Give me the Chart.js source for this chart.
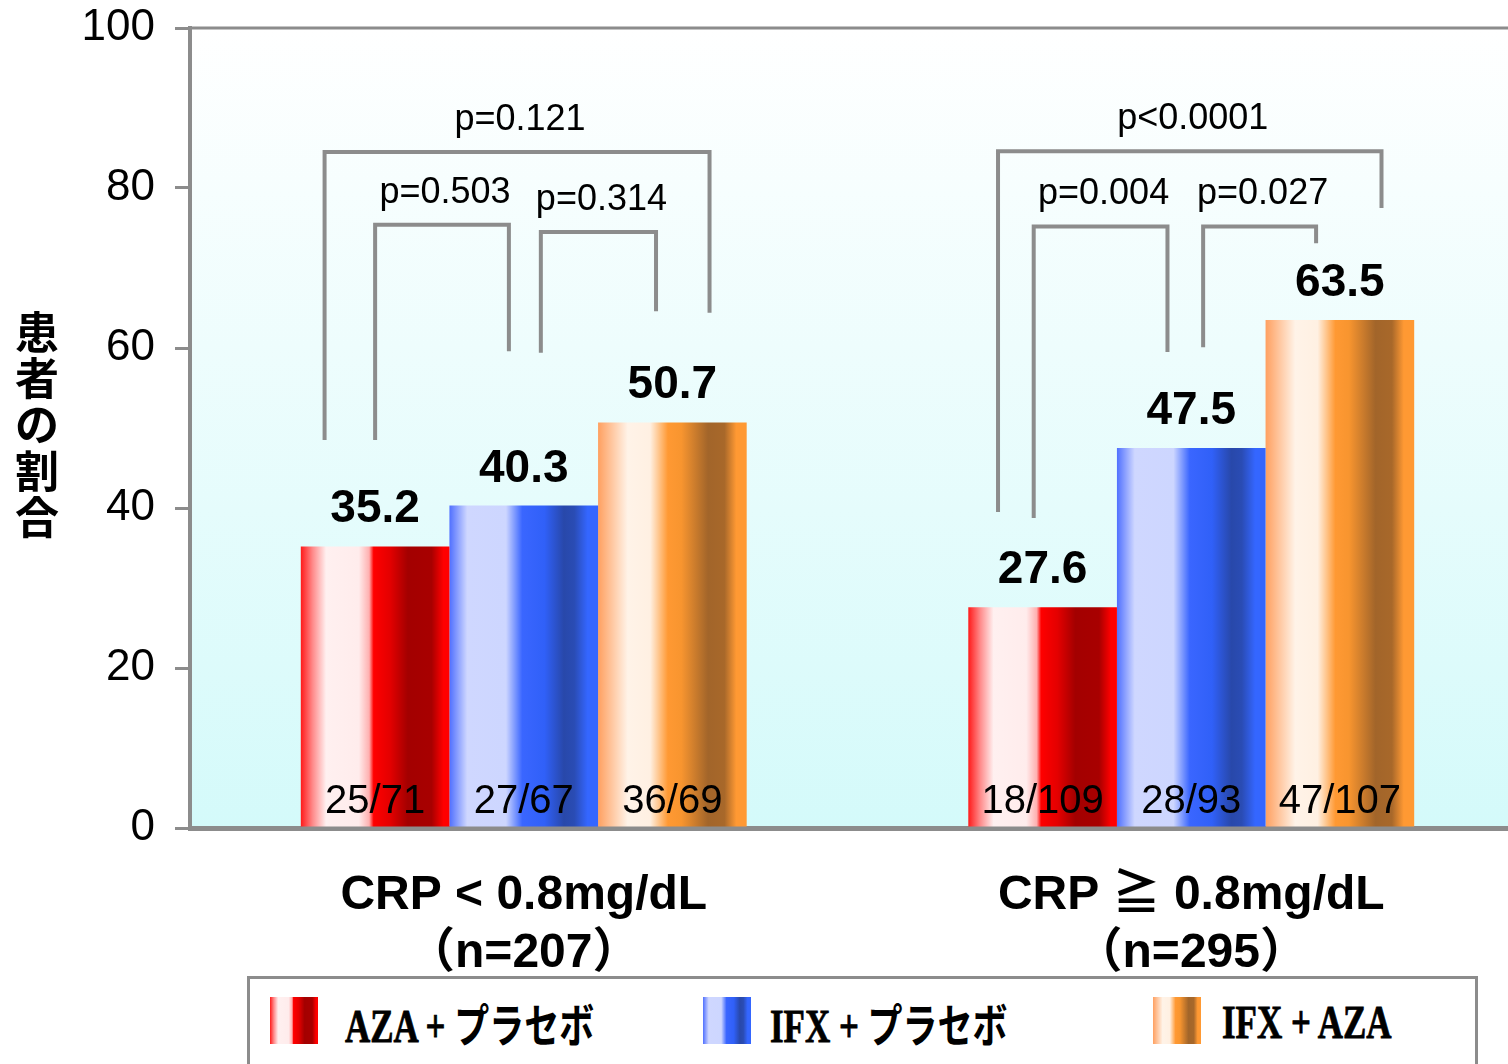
<!DOCTYPE html>
<html>
<head>
<meta charset="utf-8">
<script src="https://cdn.jsdelivr.net/npm/chart.js@4/dist/chart.umd.min.js"></script>
<style>
    html, body { margin: 0; padding: 0; background: #fff; overflow: hidden; }
    #wrap { position: relative; width: 1525px; height: 1064px; }
    #legendBox {
        position: absolute; left: 247px; top: 976px; width: 1225px; height: 120px;
        border: 3px solid #8c8c8c; background: #fff;
    }
    .sw { position: absolute; top: 18px; width: 48px; height: 47px; }
    .lt {
        position: absolute; top: 43px; font: bold 46px "Liberation Serif", serif; color: #000;
        -webkit-text-stroke: 0.8px #000;
        transform: translateY(-50%) scaleX(0.76); transform-origin: left center; white-space: nowrap;
    }
    .lt .jp { font-family: "Noto Sans CJK JP", sans-serif; font-weight: bold; -webkit-text-stroke: 0; }
</style>
</head>
<body>
<div id="wrap">
    <canvas id="chart" width="1525" height="1064"></canvas>
    <div id="legendBox"></div>
</div>
<script>
// data
const categories = [['CRP < 0.8mg/dL', '（n=207）'], ['CRP ≧ 0.8mg/dL', '（n=295）']];
const seriesNames = ['AZA + プラセボ', 'IFX + プラセボ', 'IFX + AZA'];
const azaPlacebo = [35.2, 27.6];
const ifxPlacebo = [40.3, 47.5];
const ifxAza = [50.7, 63.5];
const azaCounts = ['25/71', '18/109'];
const ifxCounts = ['27/67', '28/93'];
const comboCounts = ['36/69', '47/107'];
const yTicks = [0, 20, 40, 60, 80, 100];

// p-value brackets: group, from-series, to-series, top level and leg ends (in % units)
const pLabels = ['p=0.121', 'p=0.503', 'p=0.314', 'p<0.0001', 'p=0.004', 'p=0.027'];
const pGroup = [0, 0, 0, 1, 1, 1];
const pFrom = [0, 0, 1, 0, 0, 1];
const pTo = [2, 1, 2, 2, 1, 2];
const pTop = [84.5, 75.4, 74.5, 84.6, 75.2, 75.2];
const pLeftEnd = [48.5, 48.5, 59.4, 39.5, 38.75, 60.1];
const pRightEnd = [64.4, 59.6, 64.6, 77.5, 59.5, 73.1];

// where each leg sits, relative to the bar centre, in bar widths
const legOffsets = [[-0.34, 0.25], [0, -0.1], [0.115, -0.11], [-0.3, 0.28], [-0.06, -0.16], [0.08, -0.16]];

const SANS = '"Liberation Sans", "Noto Sans CJK JP", Arial, sans-serif';
const GRAY = '#8c8c8c';
const CAT_PCT = 0.668;

const barStops = [
    [[0, '#ff1a1a'], [0.08, '#ff8a8a'], [0.17, '#fff0f0'], [0.39, '#ffecec'], [0.46, '#ffb0b0'], [0.49, '#ff0000'], [0.6, '#e40000'], [0.72, '#a30000'], [0.88, '#a80000'], [0.96, '#ff0000'], [1, '#ff0000']],
    [[0, '#5070ff'], [0.12, '#cfd7ff'], [0.38, '#cdd6ff'], [0.49, '#3a66ff'], [0.64, '#3060f8'], [0.77, '#2848aa'], [0.84, '#2a4cb4'], [0.93, '#3466ff'], [1, '#3466ff']],
    [[0, '#ffa060'], [0.2, '#fff3e8'], [0.35, '#fff0e2'], [0.47, '#ff9933'], [0.56, '#f8952f'], [0.74, '#a2652a'], [0.85, '#a8682a'], [0.93, '#ff9933'], [1, '#ff9933']]
];

function cssGradient(stops) {
    return 'linear-gradient(to right, ' + stops.map(s => s[1] + ' ' + (s[0] * 100) + '%').join(', ') + ')';
}

// gradient per bar, from the x scale
function barGradient(ctx) {
    const chart = ctx.chart;
    const stops = barStops[ctx.datasetIndex];
    if (!chart.chartArea || ctx.dataIndex === undefined) return stops[3][1];
    const xs = chart.scales.x;
    const catW = xs.width / categories.length;
    const barW = catW * CAT_PCT / seriesNames.length;
    const cx = xs.getPixelForValue(ctx.dataIndex) + (ctx.datasetIndex - 1) * barW;
    const g = chart.ctx.createLinearGradient(cx - barW / 2, 0, cx + barW / 2, 0);
    stops.forEach(s => g.addColorStop(s[0], s[1]));
    return g;
}

const counts = [azaCounts, ifxCounts, comboCounts];

const decorations = {
    id: 'decorations',
    beforeDraw(chart) {
        const { ctx, chartArea: a } = chart;
        const g = ctx.createLinearGradient(0, a.top, 0, a.bottom);
        g.addColorStop(0, '#ffffff');
        g.addColorStop(1, '#d4fafa');
        ctx.save();
        ctx.fillStyle = g;
        ctx.fillRect(a.left, a.top, a.right - a.left, a.bottom - a.top);
        ctx.restore();
    },
    afterDraw(chart) {
        const { ctx, chartArea: a } = chart;
        const ys = chart.scales.y;
        ctx.save();
        // top frame line
        ctx.strokeStyle = GRAY;
        ctx.lineWidth = 3;
        ctx.beginPath();
        ctx.moveTo(a.left - 2, a.top);
        ctx.lineTo(a.right, a.top);
        ctx.stroke();

        // values and counts
        ctx.fillStyle = '#000';
        ctx.textAlign = 'center';
        ctx.textBaseline = 'alphabetic';
        chart.data.datasets.forEach((ds, d) => {
            chart.getDatasetMeta(d).data.forEach((bar, i) => {
                ctx.font = 'bold 46px ' + SANS;
                ctx.fillText(ds.data[i].toFixed(1), bar.x, bar.y - 24);
                ctx.font = '40px ' + SANS;
                ctx.fillText(counts[d][i], bar.x, a.bottom - 15);
            });
        });

        // brackets
        ctx.strokeStyle = GRAY;
        ctx.lineWidth = 4;
        ctx.lineCap = 'butt';
        ctx.font = '36px ' + SANS;
        pLabels.forEach((label, k) => {
            const b1 = chart.getDatasetMeta(pFrom[k]).data[pGroup[k]];
            const b2 = chart.getDatasetMeta(pTo[k]).data[pGroup[k]];
            const x1 = b1.x + legOffsets[k][0] * b1.width;
            const x2 = b2.x + legOffsets[k][1] * b2.width;
            const yTop = ys.getPixelForValue(pTop[k]);
            ctx.beginPath();
            ctx.moveTo(x1, ys.getPixelForValue(pLeftEnd[k]));
            ctx.lineTo(x1, yTop);
            ctx.lineTo(x2, yTop);
            ctx.lineTo(x2, ys.getPixelForValue(pRightEnd[k]));
            ctx.stroke();
            ctx.fillText(label, (x1 + x2) / 2 + 3, yTop - 22);
        });

        // vertical y-axis title
        ctx.font = 'bold 44px "Noto Sans CJK JP", sans-serif';
        ctx.textBaseline = 'middle';
        Array.from('患者の割合').forEach((ch, i) => {
            ctx.fillText(ch, 37, 332 + i * 46.3);
        });
        ctx.restore();
    }
};

new Chart(document.getElementById('chart'), {
    type: 'bar',
    data: {
        labels: categories,
        datasets: [azaPlacebo, ifxPlacebo, ifxAza].map((vals, d) => ({
            label: seriesNames[d],
            data: vals,
            backgroundColor: barGradient,
            borderWidth: 0,
            categoryPercentage: CAT_PCT,
            barPercentage: 1
        }))
    },
    options: {
        responsive: false,
        animation: false,
        layout: { padding: { top: 28, bottom: 86, left: 0, right: 0 } },
        plugins: { legend: { display: false }, tooltip: { enabled: false } },
        scales: {
            x: {
                grid: { display: false },
                border: { display: true, color: GRAY, width: 5 },
                ticks: { color: '#000', padding: 31, font: { family: SANS, size: 48, weight: 'bold', lineHeight: 1.2 } },
                afterFit(s) { s.height = 150; }
            },
            y: {
                min: 0, max: 100,
                afterBuildTicks(s) { s.ticks = yTicks.map(v => ({ value: v })); },
                ticks: { color: '#000', padding: 20, font: { family: SANS, size: 44 } },
                grid: { drawOnChartArea: false, tickLength: 15, color: GRAY, lineWidth: 3 },
                border: { color: GRAY, width: 4 },
                afterFit(s) { s.width = 190; s.paddingTop = 0; s.paddingBottom = 0; }
            }
        }
    },
    plugins: [decorations]
});

// legend below the chart
const legendBox = document.getElementById('legendBox');
const swLeft = [20, 453, 903];
const txtLeft = [95, 520, 972];
seriesNames.forEach((name, d) => {
    const sw = document.createElement('div');
    sw.className = 'sw';
    sw.style.left = swLeft[d] + 'px';
    sw.style.background = cssGradient(barStops[d]);
    legendBox.appendChild(sw);
    const t = document.createElement('div');
    t.className = 'lt';
    t.style.left = txtLeft[d] + 'px';
    t.innerHTML = name.replace(/([\u3040-\u30ff]+)/g, '<span class="jp">$1</span>');
    legendBox.appendChild(t);
});
</script>
</body>
</html>
